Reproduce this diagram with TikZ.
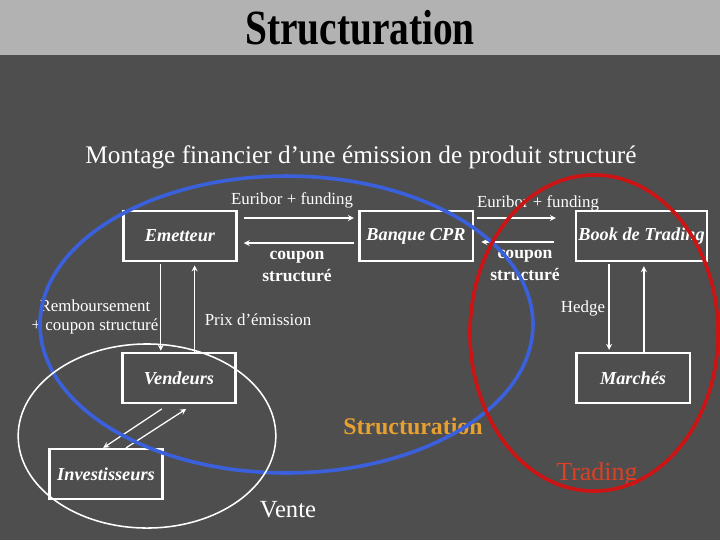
\documentclass[tikz,border=0pt]{standalone}
\usepackage{fontspec}
\setmainfont{Liberation Serif}
\definecolor{bgcol}{RGB}{78,78,78}
\definecolor{barcol}{RGB}{178,178,178}
\definecolor{structblue}{RGB}{58,96,220}
\definecolor{tradered}{RGB}{205,20,20}
\definecolor{structorange}{RGB}{232,160,48}
\definecolor{tradeorange}{RGB}{222,64,36}

\begin{document}
\begin{tikzpicture}[x=0.025cm, y=-0.025cm,
  box/.style={draw=white, line width=1.6pt, rectangle, minimum width=2.83cm, minimum height=1.25cm, inner sep=0pt, text=white, font=\fontsize{13}{15}\selectfont\bfseries\itshape},
  flow/.style={->, >=stealth, white, line width=0.9pt},
  lbl/.style={text=white, font=\fontsize{12}{14}\selectfont, align=center, inner sep=0pt},
  blbl/.style={lbl, font=\fontsize{12.5}{15.6}\selectfont\bfseries}]
\fill[bgcol] (0,0) rectangle (720,540);
\fill[barcol] (0,0) rectangle (720,55);
\useasboundingbox (0,0) rectangle (720,540);

\node[font=\fontsize{28}{34}\selectfont\bfseries] (title) at (360,28) {\scalebox{1}[1.25]{Structuration}};
\node[text=white, font=\fontsize{18}{22}\selectfont] (subtitle) at (361,157) {Montage financier d’une émission de produit structuré};

% les acteurs
\node[box] (emet) at (180,236) {Emetteur};
\node[box] (cpr) at (416,236) {Banque CPR};
\node[box, minimum width=3.28cm] (book) at (641.5,236) {Book de Trading};
\node[box] (vend) at (179,378) {Vendeurs};
\node[box] (march) at (633,378) {Marchés};
\node[box] (inv) at (106,474) {Investisseurs};

% flux
\draw[flow] ([xshift=0.16cm,yshift=0.45cm]emet.east) -- ([xshift=-0.11cm,yshift=0.45cm]cpr.west);
\draw[flow] ([xshift=-0.11cm,yshift=-0.175cm]cpr.west) -- ([xshift=0.15cm,yshift=-0.175cm]emet.east);
\draw[flow] ([xshift=0.09cm,yshift=0.45cm]cpr.east) -- ([xshift=-0.47cm,yshift=0.45cm]book.west);
\draw[flow] ([xshift=-0.52cm,yshift=-0.15cm]book.west) -- ([xshift=0.19cm,yshift=-0.15cm]cpr.east);

\draw[flow] ([xshift=-0.48cm,yshift=-0.05cm]emet.south) -- ([xshift=-0.48cm,yshift=0.03cm]emet.south |- vend.north);
\draw[flow] ([xshift=0.39cm]vend.north) -- ([xshift=0.39cm,yshift=-0.08cm]vend.north |- emet.south);
\draw[flow] ([xshift=-0.81cm,yshift=-0.05cm]book.south) -- ([xshift=-0.81cm,yshift=0.05cm]book.south |- march.north);
\draw[flow] ([xshift=0.06cm]book.south |- march.north) -- ([xshift=0.06cm,yshift=-0.1cm]book.south);

\draw[flow] ([xshift=-0.43cm,yshift=-0.12cm]vend.south) -- ([xshift=-0.07cm]inv.north);
\draw[flow] ([xshift=0.5cm]inv.north) -- ([xshift=0.18cm,yshift=-0.12cm]vend.south);

% etiquettes
\node[lbl] (euri1) at (292,200) {Euribor + funding};
\node[lbl] (euri2) at (538,203) {Euribor + funding};
\node[blbl] (coup1) at (297,266) {coupon\\structuré};
\node[blbl] (coup2) at (525,265) {coupon\\structuré};
\node[lbl, font=\fontsize{12}{13.5}\selectfont] (remb) at (95,317) {Remboursement\\+ coupon structuré};
\node[lbl] (prix) at (258,320) {Prix d’émission};
\node[lbl] (hedge) at (583,308) {Hedge};
\node[font=\fontsize{17}{20}\selectfont\bfseries, text=structorange] (struct) at (413,426) {Structuration};
\node[font=\fontsize{18.5}{22}\selectfont, text=tradeorange] (trad) at (597,474) {Trading};
\node[font=\fontsize{17.5}{21}\selectfont, text=white] (vente) at (288,510) {Vente};

% les trois zones
\draw[structblue, line width=2.6pt] (286.5,324.5) ellipse [x radius=6.16cm, y radius=3.71cm];
\draw[tradered, line width=2.6pt] (594,333) ellipse [x radius=3.1cm, y radius=3.95cm];
\draw[white, line width=1.1pt] (147,436) ellipse [x radius=3.22cm, y radius=2.3cm];
\end{tikzpicture}
\end{document}
